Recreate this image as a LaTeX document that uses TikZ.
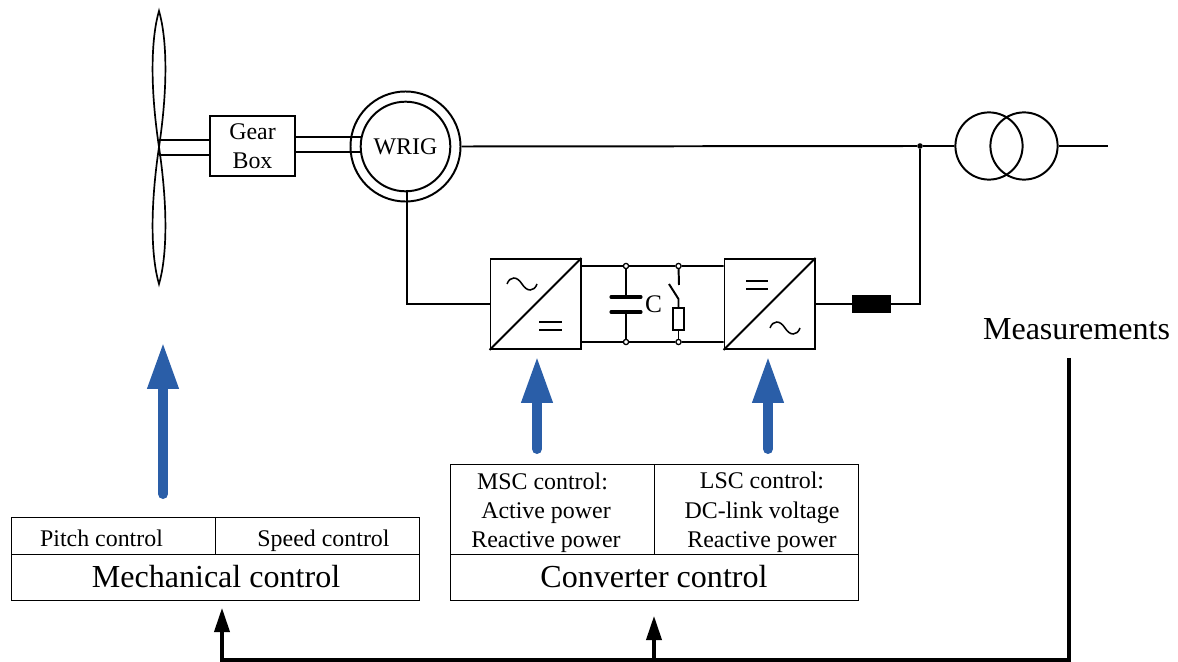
\documentclass[tikz,border=0pt]{standalone}
\usepackage{fontspec}
\setmainfont{Liberation Serif}
\usepackage{xcolor}
\usetikzlibrary{arrows.meta}
\definecolor{ctrlblue}{RGB}{42, 94, 168}
\newcommand{\smalltext}{\fontsize{17}{20.5}\selectfont}
\newcommand{\largetext}{\fontsize{22.8}{26}\selectfont}

\begin{document}
\begin{tikzpicture}[
			x=0.025cm, y=-0.025cm,
			wire/.style={line width=1.4pt, line join=miter},
			device/.style={rectangle, draw, line width=1.4pt, inner sep=0pt, fill=white},
			conv/.style={device, minimum width=2.25cm, minimum height=2.25cm},
			ring/.style={circle, draw, line width=1.4pt, inner sep=0pt},
			cell/.style={rectangle, draw, line width=0.6pt, inner sep=0pt},
			celltext/.style={inner sep=0pt, anchor=base, font=\smalltext},
			titletext/.style={inner sep=0pt, anchor=base, font=\largetext},
			opendot/.style={circle, draw, line width=0.9pt, fill=white, inner sep=0pt, minimum size=0.13cm},
			soliddot/.style={circle, fill=black, inner sep=0pt, minimum size=0.14cm},
			ctrlarrow/.style={-{Triangle[length=1.17cm, width=0.72cm]}, line width=0.25cm, line cap=round, draw=ctrlblue, color=ctrlblue},
			feedback/.style={-{Triangle[length=0.6cm, width=0.38cm]}, line width=2.2pt}
		]
		\useasboundingbox (0,0) rectangle (1178,662);
		
		% Turbine blades
		\coordinate (hub) at (159,147);
		\coordinate (bladetop) at (159,11);
		\coordinate (bladebot) at (159,284);
		\draw[line width=1.2pt] (hub) .. controls (149,80) and (152,35) .. (bladetop) .. controls (166,35) and (169,80) .. (hub);
		\draw[line width=1.2pt] (hub) .. controls (149,215) and (152,260) .. (bladebot) .. controls (166,260) and (169,215) .. (hub);
		
		% Generator and gear box
		\node[device, minimum width=2.125cm, minimum height=1.5cm, align=center, font=\smalltext] (gear) at (252.5,146) {Gear\\Box};
		\node[ring, minimum size=2.75cm] (statorring) at (405.5,146.5) {};
		\node[ring, minimum size=2.24cm, font=\smalltext] (wrig) at (405.5,146.5) {WRIG};
		
		% Shafts
		\draw[wire] (hub |- 0,140) -- (gear.west |- 0,140);
		\draw[wire] (hub |- 0,155) -- (gear.west |- 0,155);
		\draw[wire] (gear.east |- 0,137) -- (361,137);
		\draw[wire] (gear.east |- 0,152) -- (361,152);
		
		% Transformer
		\node[ring, minimum size=1.68cm] (trafoa) at (989,146) {};
		\node[ring, minimum size=1.68cm] (trafob) at (1024,146) {};
		\coordinate (gridend) at (1108,146);
		\node[soliddot] (pcc) at (920,146) {};
		
		% Converters
		\node[conv] (msc) at (535.5,304) {};
		\node[conv] (lsc) at (769.5,304) {};
		\draw[wire] (msc.south west) -- (msc.north east);
		\draw[wire] (lsc.south west) -- (lsc.north east);
		\draw[line width=1.1pt] (507,284) .. controls (510,276) and (517,276) .. (522,284) .. controls (527,292) and (534,292) .. (537,284);
		\draw[line width=1.1pt] (770,328) .. controls (773,320) and (780,320) .. (785,328) .. controls (790,336) and (797,336) .. (800,328);
		\draw[line width=1.1pt] (539,322) -- (562,322);
		\draw[line width=1.1pt] (539,330) -- (562,330);
		\draw[line width=1.1pt] (746,281) -- (768,281);
		\draw[line width=1.1pt] (746,289) -- (768,289);
		\node[rectangle, fill=black, inner sep=0pt, minimum width=0.975cm, minimum height=0.425cm] (filter) at (871.5,304) {};
		
		% DC link
		\node[opendot] (captop) at (626,266) {};
		\node[opendot] (capbot) at (626,342) {};
		\node[opendot] (swtop) at (678.5,266) {};
		\node[opendot] (swbot) at (678.5,342) {};
		\coordinate (plateup) at (626,297);
		\coordinate (platedown) at (626,312);
		\draw[wire] ([yshift=0.95cm]msc.east) -- (captop) -- (swtop) -- ([yshift=0.95cm]lsc.west);
		\draw[wire] ([yshift=-0.95cm]msc.east) -- (capbot) -- (swbot) -- ([yshift=-0.95cm]lsc.west);
		\draw[wire] (captop) -- (plateup);
		\draw[wire] (capbot) -- (platedown);
		\draw[line width=2.2pt, line cap=round] (611,297) -- (641,297);
		\draw[line width=2.2pt, line cap=round] (611,312) -- (641,312);
		\node[inner sep=0pt, font=\fontsize{18}{20}\selectfont] (clabel) at (653.5,304) {C};
		\node[device, minimum width=0.28cm, minimum height=0.55cm] (resistor) at (678.5,319) {};
		\coordinate (swfix) at (679,285);
		\coordinate (swhinge) at (678.5,299);
		\coordinate (swblade) at (669,284);
		\draw[wire] (swtop) -- (swfix);
		\draw[wire] (swblade) -- (swhinge) -- (resistor.north);
		\draw[wire] (resistor.south) -- (swbot);
		
		% Main circuit
		\draw[wire] (statorring.east) -- (pcc) -- (trafoa.west);
		\draw[wire] (trafob.east) -- (gridend);
		\draw[wire] (407,190) |- (msc.west);
		\draw[wire] (lsc.east) -- (filter.west);
		\draw[wire] (filter.east) -| (pcc);
		
		% Control boxes
		\node[cell, minimum width=5.1cm, minimum height=0.925cm] (pitch) at (113,535.5) {};
		\node[cell, minimum width=5.1cm, minimum height=0.925cm] (speed) at (317,535.5) {};
		\node[cell, minimum width=10.2cm, minimum height=1.15cm] (mechctl) at (215,577) {};
		\node[cell, minimum width=5.1cm, minimum height=2.25cm] (mscctl) at (552,509) {};
		\node[cell, minimum width=5.1cm, minimum height=2.25cm] (lscctl) at (756,509) {};
		\node[cell, minimum width=10.2cm, minimum height=1.15cm] (convctl) at (654,577) {};
		
		% Control box texts
		\node[titletext] (mechtxt) at (216,587) {Mechanical control};
		\node[titletext] (convtxt) at (654,587) {Converter control};
		\node[celltext] (pitchtxt) at (101.5,546) {Pitch control};
		\node[celltext] (speedtxt) at (323.5,546) {Speed control};
		\node[celltext] (msctxta) at (542.5,489) {MSC control:};
		\node[celltext] (msctxtb) at (546,518) {Active power};
		\node[celltext] (msctxtc) at (546,547) {Reactive power};
		\node[celltext] (lsctxta) at (762,488) {LSC control:};
		\node[celltext] (lsctxtb) at (762,518) {DC-link voltage};
		\node[celltext] (lsctxtc) at (762,547) {Reactive power};
		
		% Control actions
		\coordinate (mechtail) at (163,494);
		\coordinate (mechhead) at (163,342);
		\coordinate (msctail) at (537,449);
		\coordinate (mschead) at (537,356);
		\coordinate (lsctail) at (768,449);
		\coordinate (lschead) at (768,356);
		\draw[ctrlarrow] (mechtail) -- (mechhead);
		\draw[ctrlarrow] (msctail) -- (mschead);
		\draw[ctrlarrow] (lsctail) -- (lschead);
		
		% Measurement feedback
		\node[titletext] (meas) at (1076.5,340) {Measurements};
		\coordinate (measout) at (1069,358);
		\coordinate (feedcorner) at (222,660);
		\coordinate (mechin) at (222,608);
		\coordinate (feedtap) at (654,660);
		\coordinate (convin) at (654,616);
		\draw[feedback] (measout) |- (feedcorner) -- (mechin);
		\draw[feedback] (feedtap) -- (convin);
		\end{tikzpicture}
\end{document}
